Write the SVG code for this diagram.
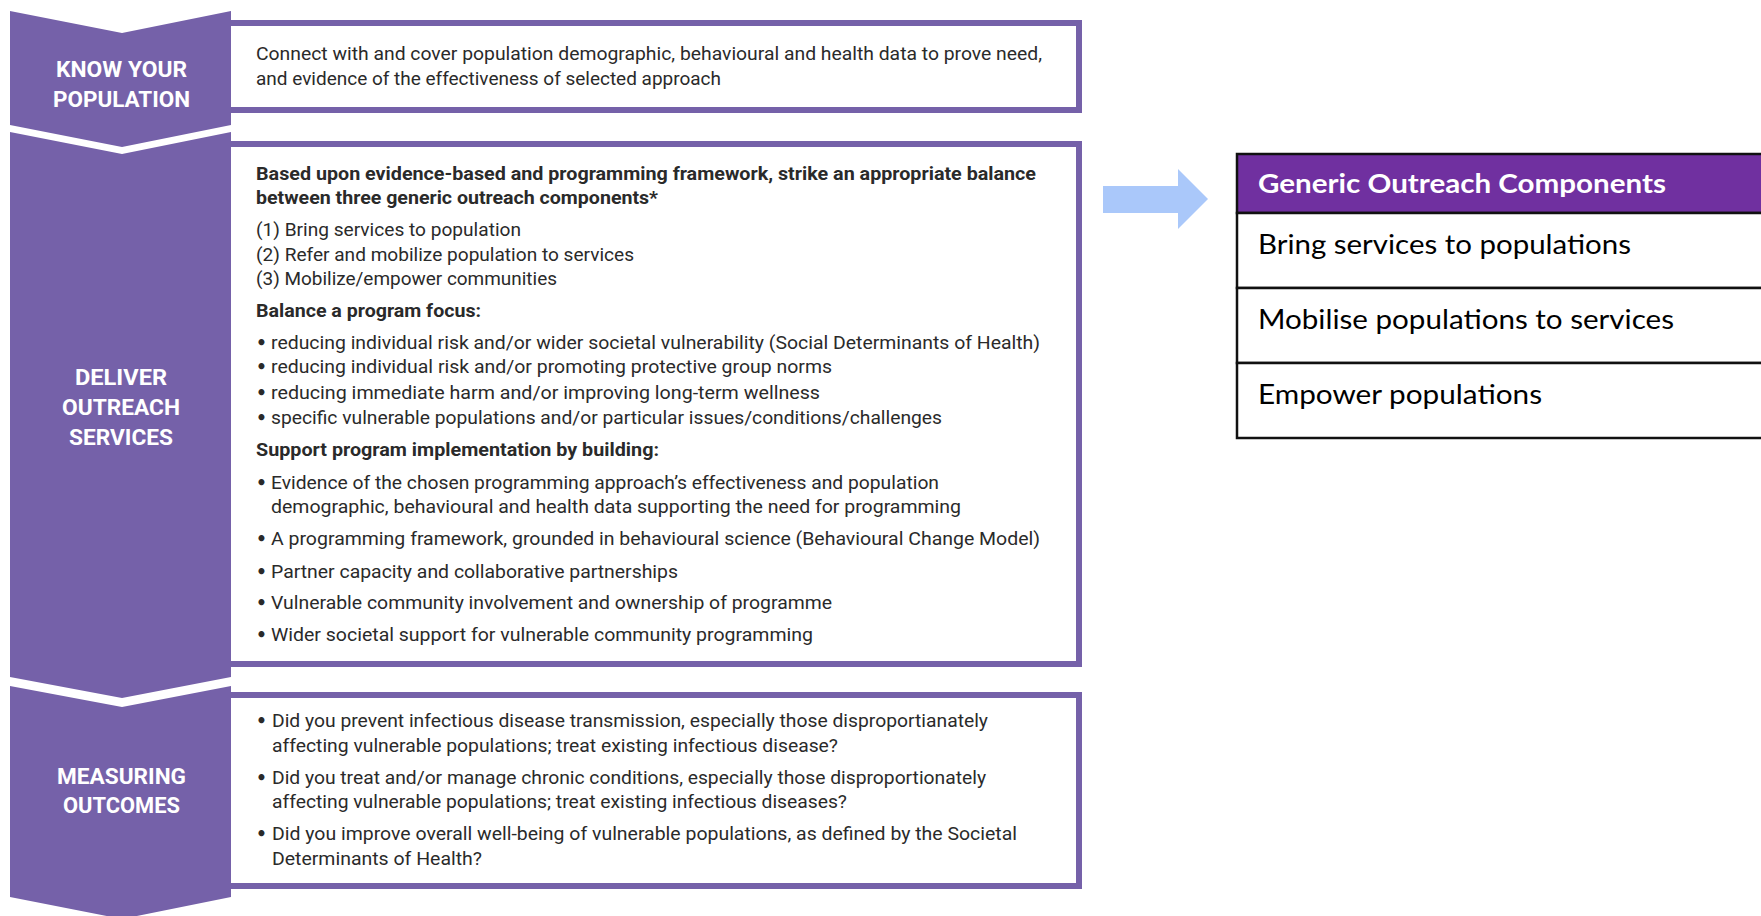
<svg xmlns="http://www.w3.org/2000/svg" width="1761" height="916" viewBox="0 0 1761 916">
<style>
.chev{fill:#7561a9}
.box{fill:#ffffff;stroke:#7561a9;stroke-width:6}
.lab{font-family:Roboto,"Liberation Sans",sans-serif;font-weight:700;font-size:22px;fill:#ffffff}
.t{font-family:Roboto,"Liberation Sans",sans-serif;font-size:18px;fill:#2a2a2a}
.bu{font-family:"DejaVu Sans",sans-serif;font-size:17px;font-weight:700;fill:#2a2a2a}
.b{font-weight:700}
.tbl{font-family:Lato,Carlito,"Liberation Sans",sans-serif;font-size:26px;fill:#000000}
.th{fill:#ffffff;font-weight:700}
.cell{fill:#ffffff;stroke:#111111;stroke-width:2.5}
</style>

<g id="node-know-your-population">
<rect class="box" x="228" y="23" width="851" height="87"/>
<polygon class="chev" points="10,11 122,33 231,11 231,125 122,147 10,125"/>
<text class="lab" x="56" y="77" textLength="131" lengthAdjust="spacingAndGlyphs">KNOW YOUR</text>
<text class="lab" x="53" y="107" textLength="137" lengthAdjust="spacingAndGlyphs">POPULATION</text>
<text class="t" x="256" y="60" textLength="786" lengthAdjust="spacingAndGlyphs">Connect with and cover population demographic, behavioural and health data to prove need,</text>
<text class="t" x="256" y="85" textLength="465" lengthAdjust="spacingAndGlyphs">and evidence of the effectiveness of selected approach</text>
</g>

<g id="node-deliver-outreach-services">
<rect class="box" x="228" y="144" width="851" height="520"/>
<polygon class="chev" points="10,132 122,154 231,132 231,677 122,698 10,677"/>
<text class="lab" x="75" y="385" textLength="92" lengthAdjust="spacingAndGlyphs">DELIVER</text>
<text class="lab" x="62" y="415" textLength="118" lengthAdjust="spacingAndGlyphs">OUTREACH</text>
<text class="lab" x="69" y="445" textLength="104" lengthAdjust="spacingAndGlyphs">SERVICES</text>
<text class="t b" x="256" y="180" textLength="780" lengthAdjust="spacingAndGlyphs">Based upon evidence-based and programming framework, strike an appropriate balance</text>
<text class="t b" x="256" y="204" textLength="402" lengthAdjust="spacingAndGlyphs">between three generic outreach components*</text>
<text class="t" x="256" y="236" textLength="265" lengthAdjust="spacingAndGlyphs">(1) Bring services to population</text>
<text class="t" x="256" y="261" textLength="378" lengthAdjust="spacingAndGlyphs">(2) Refer and mobilize population to services</text>
<text class="t" x="256" y="284.5" textLength="301" lengthAdjust="spacingAndGlyphs">(3) Mobilize/empower communities</text>
<text class="t b" x="256" y="317" textLength="225" lengthAdjust="spacingAndGlyphs">Balance a program focus:</text>
<text class="bu" x="256" y="348.5">•</text>
<text class="t" x="271" y="348.5" textLength="769" lengthAdjust="spacingAndGlyphs">reducing individual risk and/or wider societal vulnerability (Social Determinants of Health)</text>
<text class="bu" x="256" y="373">•</text>
<text class="t" x="271" y="373" textLength="561" lengthAdjust="spacingAndGlyphs">reducing individual risk and/or promoting protective group norms</text>
<text class="bu" x="256" y="399">•</text>
<text class="t" x="271" y="399" textLength="549" lengthAdjust="spacingAndGlyphs">reducing immediate harm and/or improving long-term wellness</text>
<text class="bu" x="256" y="424">•</text>
<text class="t" x="271" y="424" textLength="671" lengthAdjust="spacingAndGlyphs">specific vulnerable populations and/or particular issues/conditions/challenges</text>
<text class="t b" x="256" y="456" textLength="403" lengthAdjust="spacingAndGlyphs">Support program implementation by building:</text>
<text class="bu" x="256" y="489">•</text>
<text class="t" x="271" y="489" textLength="668" lengthAdjust="spacingAndGlyphs">Evidence of the chosen programming approach’s effectiveness and population</text>
<text class="t" x="271" y="512.5" textLength="690" lengthAdjust="spacingAndGlyphs">demographic, behavioural and health data supporting the need for programming</text>
<text class="bu" x="256" y="545">•</text>
<text class="t" x="271" y="545" textLength="769" lengthAdjust="spacingAndGlyphs">A programming framework, grounded in behavioural science (Behavioural Change Model)</text>
<text class="bu" x="256" y="577.5">•</text>
<text class="t" x="271" y="577.5" textLength="407" lengthAdjust="spacingAndGlyphs">Partner capacity and collaborative partnerships</text>
<text class="bu" x="256" y="609">•</text>
<text class="t" x="271" y="609" textLength="561" lengthAdjust="spacingAndGlyphs">Vulnerable community involvement and ownership of programme</text>
<text class="bu" x="256" y="640.5">•</text>
<text class="t" x="271" y="640.5" textLength="542" lengthAdjust="spacingAndGlyphs">Wider societal support for vulnerable community programming</text>
</g>

<g id="node-measuring-outcomes">
<rect class="box" x="228" y="695" width="851" height="191"/>
<polygon class="chev" points="10,686 122,707 231,686 231,897 122,919 10,897"/>
<text class="lab" x="57" y="784" textLength="129" lengthAdjust="spacingAndGlyphs">MEASURING</text>
<text class="lab" x="63" y="813" textLength="117" lengthAdjust="spacingAndGlyphs">OUTCOMES</text>
<text class="bu" x="256" y="727">•</text>
<text class="t" x="272" y="727" textLength="716" lengthAdjust="spacingAndGlyphs">Did you prevent infectious disease transmission, especially those disproportianately</text>
<text class="t" x="272" y="751.5" textLength="566" lengthAdjust="spacingAndGlyphs">affecting vulnerable populations; treat existing infectious disease?</text>
<text class="bu" x="256" y="784">•</text>
<text class="t" x="272" y="784" textLength="714" lengthAdjust="spacingAndGlyphs">Did you treat and/or manage chronic conditions, especially those disproportionately</text>
<text class="t" x="272" y="808" textLength="575" lengthAdjust="spacingAndGlyphs">affecting vulnerable populations; treat existing infectious diseases?</text>
<text class="bu" x="256" y="840">•</text>
<text class="t" x="272" y="840" textLength="745" lengthAdjust="spacingAndGlyphs">Did you improve overall well-being of vulnerable populations, as defined by the Societal</text>
<text class="t" x="272" y="865" textLength="210" lengthAdjust="spacingAndGlyphs">Determinants of Health?</text>
</g>

<g id="connectors">
<polygon fill="#aac8fa" points="1103,186 1178,186 1178,169 1208,199 1178,229 1178,213 1103,213"/>
</g>

<g id="node-generic-outreach-components">
<g id="table-header">
<rect x="1237" y="154" width="560" height="59" fill="#7030a0" stroke="#111111" stroke-width="2.5"/>
<text class="tbl th" x="1258" y="193" textLength="408" lengthAdjust="spacingAndGlyphs">Generic Outreach Components</text>
</g>
<g id="row-bring-services">
<rect class="cell" x="1237" y="213" width="560" height="75"/>
<text class="tbl" x="1258" y="254" textLength="373" lengthAdjust="spacingAndGlyphs">Bring services to populations</text>
</g>
<g id="row-mobilise-populations">
<rect class="cell" x="1237" y="288" width="560" height="75"/>
<text class="tbl" x="1258" y="329" textLength="416" lengthAdjust="spacingAndGlyphs">Mobilise populations to services</text>
</g>
<g id="row-empower-populations">
<rect class="cell" x="1237" y="363" width="560" height="75"/>
<text class="tbl" x="1258" y="404" textLength="284" lengthAdjust="spacingAndGlyphs">Empower populations</text>
</g>
</g>
</svg>
